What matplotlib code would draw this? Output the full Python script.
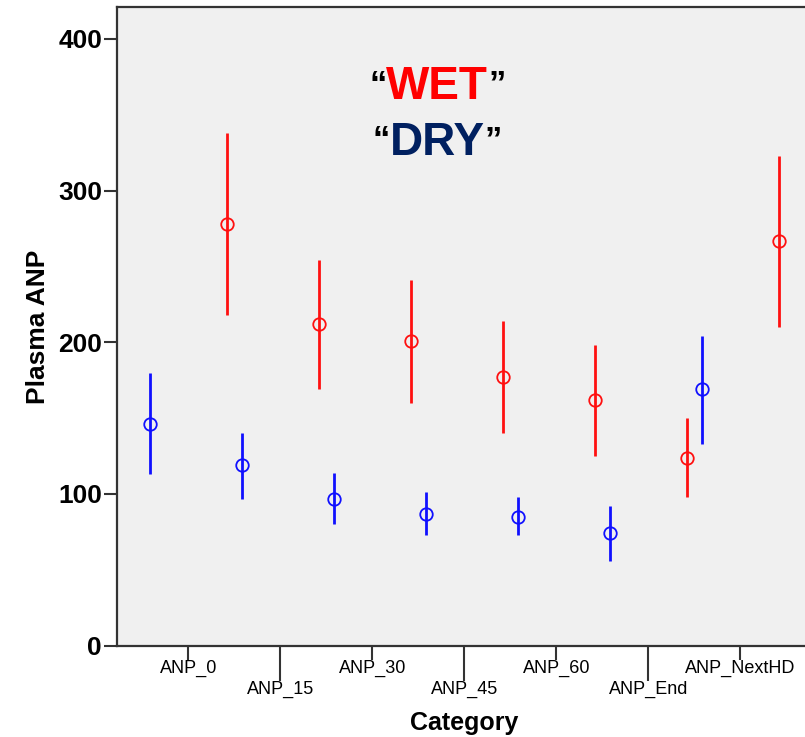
import numpy as np
import matplotlib.pyplot as plt

plt.rcParams['font.family'] = ['Liberation Sans', 'DejaVu Sans']

categories = ['ANP_0', 'ANP_15', 'ANP_30', 'ANP_45', 'ANP_60', 'ANP_End', 'ANP_NextHD']

# DRY (blue): mean, upper, lower
dry_mean = [146, 119, 97, 87, 85, 74, 169]
dry_hi = [180, 140, 114, 101, 98, 92, 204]
dry_lo = [113, 97, 80, 73, 73, 56, 133]

# WET (red): mean, upper, lower
wet_mean = [278, 212, 201, 177, 162, 124, 267]
wet_hi = [338, 254, 241, 214, 198, 150, 323]
wet_lo = [218, 169, 160, 140, 125, 98, 210]

x = np.arange(len(categories))
off = 0.416

fig = plt.figure(figsize=(8.05, 7.37), dpi=100)
ax = fig.add_axes([0.1449, 0.1239, 0.864, 0.866])
ax.set_facecolor('#f0f0f0')

def draw_series(xs, mean, hi, lo, color):
    mean = np.array(mean)
    err = [mean - np.array(lo), np.array(hi) - mean]
    ax.errorbar(xs, mean, yerr=err, fmt='o', color=color, ecolor=color,
                elinewidth=2, capsize=0, markersize=9, markerfacecolor='none',
                markeredgewidth=1.3, markeredgecolor=color)

draw_series(x - off, dry_mean, dry_hi, dry_lo, '#1010ff')
draw_series(x + off, wet_mean, wet_hi, wet_lo, '#ff1010')

ax.set_xlim(-0.78, len(categories) - 1 + 0.78)
ax.set_ylim(0, 420.7)

# staggered category labels: even ones short ticks, odd ones long ticks
ax.set_xticks(x[::2])
ax.set_xticklabels(categories[::2], fontsize=13)
ax.set_xticks(x[1::2], minor=True)
ax.set_xticklabels(categories[1::2], minor=True, fontsize=13)
ax.tick_params(axis='x', which='major', length=10, width=1.5, pad=0, color='#333333')
ax.tick_params(axis='x', which='minor', length=25, width=1.5, pad=0, color='#333333')

ax.set_yticks([0, 100, 200, 300, 400])
ax.tick_params(axis='y', length=9.5, width=1.5, color='#333333', labelsize=19, pad=1)
for lbl in ax.get_yticklabels():
    lbl.set_fontweight('bold')

for side in ['left', 'bottom', 'top']:
    ax.spines[side].set_color('#333333')
    ax.spines[side].set_linewidth(1.6)
ax.spines['right'].set_visible(False)

ax.set_xlabel('Category', fontsize=18, fontweight='bold', labelpad=10)
ax.set_ylabel('Plasma ANP', fontsize=19, fontweight='bold', labelpad=6)

# annotation text with black quotes
wet = ax.text(0.461, 0.875, 'WET', transform=ax.transAxes, ha='center', va='center',
              fontsize=33, fontweight='bold', color='#ff0000')
dry = ax.text(0.461, 0.788, 'DRY', transform=ax.transAxes, ha='center', va='center',
              fontsize=33, fontweight='bold', color='#002060')
for t in [wet, dry]:
    ax.annotate('\u201c', xy=(0, 0.92), xycoords=t, ha='right', va='top',
                fontsize=25, fontweight='bold', color='black')
    ax.annotate('\u201d', xy=(1, 0.92), xycoords=t, ha='left', va='top',
                fontsize=25, fontweight='bold', color='black')

fig.savefig('out.png', dpi=100)
